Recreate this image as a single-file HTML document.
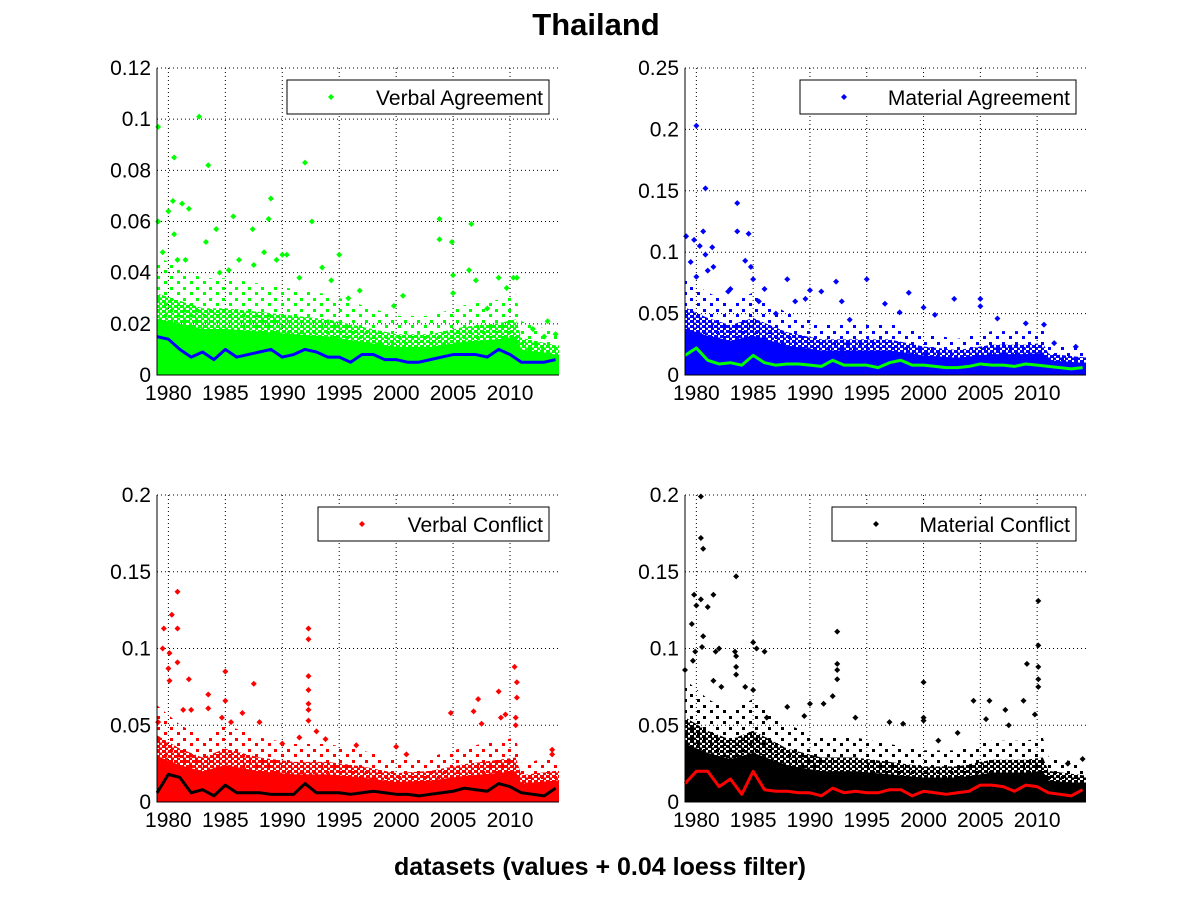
<!DOCTYPE html>
<html><head><meta charset="utf-8"><style>
body{margin:0;background:#fff;}
svg{display:block;font-family:"Liberation Sans",Arial,sans-serif;}
</style></head><body>
<svg id="chart" width="1201" height="901" viewBox="0 0 1201 901">
<defs>
<pattern id="pg" width="6" height="5" patternUnits="userSpaceOnUse"><rect x="0" y="0" width="4" height="3" fill="#00ff00"/><rect x="3" y="2.5" width="3" height="2.5" fill="#00ff00"/></pattern>
<pattern id="pb" width="6" height="5" patternUnits="userSpaceOnUse"><rect x="0" y="0" width="4" height="3" fill="#0000ff"/><rect x="3" y="2.5" width="3" height="2.5" fill="#0000ff"/></pattern>
<pattern id="pr" width="6" height="5" patternUnits="userSpaceOnUse"><rect x="0" y="0" width="4" height="3" fill="#ff0000"/><rect x="3" y="2.5" width="3" height="2.5" fill="#ff0000"/></pattern>
<pattern id="pk" width="6" height="5" patternUnits="userSpaceOnUse"><rect x="0" y="0" width="4" height="3" fill="#000"/><rect x="3" y="2.5" width="3" height="2.5" fill="#000"/></pattern>
<pattern id="qg" width="13" height="11" patternUnits="userSpaceOnUse"><rect x="1" y="1" width="3" height="3" fill="#00ff00"/><rect x="8" y="6" width="3" height="3" fill="#00ff00"/></pattern>
<pattern id="qb" width="13" height="11" patternUnits="userSpaceOnUse"><rect x="1" y="1" width="3" height="3" fill="#0000ff"/><rect x="8" y="6" width="3" height="3" fill="#0000ff"/></pattern>
<pattern id="qr" width="13" height="11" patternUnits="userSpaceOnUse"><rect x="1" y="1" width="3" height="3" fill="#ff0000"/><rect x="8" y="6" width="3" height="3" fill="#ff0000"/></pattern>
<pattern id="qk" width="13" height="11" patternUnits="userSpaceOnUse"><rect x="1" y="1" width="3" height="3" fill="#000"/><rect x="8" y="6" width="3" height="3" fill="#000"/></pattern>
</defs>
<text x="596" y="35" text-anchor="middle" font-size="31" font-weight="bold">Thailand</text>
<text x="600" y="875" text-anchor="middle" font-size="25" font-weight="bold">datasets (values + 0.04 loess filter)</text>
</svg>
<script>
// shared years
const loessYears=[1979,1980,1981,1982,1983,1984,1985,1986,1987,1988,1989,1990,1991,1992,1993,1994,1995,1996,1997,1998,1999,2000,2001,2002,2003,2004,2005,2006,2007,2008,2009,2010,2011,2012,2013,2014];
const bandYears=[1979,1981,1983,1985,1988,1991,1994,1997,2000,2003,2006,2009,2010.5,2011,2014];
const xTicks=[1980,1985,1990,1995,2000,2005,2010];

// Verbal Agreement
const vaLoess=[.015,.014,.010,.007,.009,.006,.010,.007,.008,.009,.010,.007,.008,.010,.009,.007,.007,.005,.008,.008,.006,.006,.005,.005,.006,.007,.008,.008,.008,.007,.010,.008,.005,.005,.005,.006];
const vaBand=[.022,.02,.018,.018,.017,.016,.015,.013,.011,.011,.013,.014,.015,.01,.008];
const vaOutX=[1979.1,1982.7,1980.5,1983.5,1992,1989,1979.1,1980.4,1981.2,1981.8,1985.7,1984.2,1987.4,1988.8,1992.6,2003.8,2003.8,2004.9,2006.6,2006.4,1980,1980.5,1983.3,1986.2,1988.4,1990,1990.4,1995,1993.5,2009,2010.6,2010.3,1991.5,1996.8,2000.6,2013.3,2014,1979.5,1980.8,1981.5,1984.5,1985.3,1987.5,1989.5,1994.3,1995.8,1999.8,2005,2005,2007,2008,2009.7,2012,2013];
const vaOutY=[.097,.101,.085,.082,.083,.069,.060,.068,.067,.065,.062,.057,.057,.061,.060,.061,.053,.052,.059,.041,.064,.055,.052,.045,.048,.047,.047,.047,.042,.038,.038,.038,.038,.033,.031,.021,.016,.048,.045,.045,.040,.041,.043,.045,.037,.030,.027,.039,.032,.037,.026,.034,.018,.015];
const vaTicks=[0,0.02,0.04,0.06,0.08,0.1,0.12];

// Material Agreement
const maLoess=[.016,.022,.012,.009,.010,.008,.016,.010,.008,.009,.009,.008,.007,.012,.008,.008,.008,.006,.010,.012,.008,.008,.007,.006,.006,.007,.009,.008,.008,.007,.009,.008,.007,.006,.005,.006];
const maBand=[.038,.032,.028,.032,.024,.02,.02,.02,.016,.014,.017,.017,.018,.012,.01];
const maOutX=[1980,1980.8,1983.6,1983.6,1984.6,1979.1,1979.8,1980.6,1981.4,1980.3,1984.3,1984.8,1979.5,1980.8,1985,1988,1995,1992.3,1991,1990,1998.7,2002.7,2005,2005,1986,1981.5,1982.8,1988.7,1989.6,1992.8,1996.6,2000,2001,1997.9,2006.5,2009,2010.6,2013.4,2011.5,1980,1981,1983,1985.5,1987,1993.5];
const maOutY=[.203,.152,.140,.117,.115,.113,.110,.117,.104,.105,.093,.088,.092,.098,.078,.078,.078,.076,.068,.069,.067,.062,.062,.056,.070,.088,.068,.060,.062,.060,.058,.055,.049,.051,.046,.042,.041,.023,.026,.08,.085,.07,.06,.05,.045];
const maTicks=[0,0.05,0.1,0.15,0.2,0.25];

// Verbal Conflict
const vcLoess=[.006,.018,.016,.006,.008,.004,.011,.006,.006,.006,.005,.005,.005,.012,.006,.006,.006,.005,.006,.007,.006,.005,.005,.004,.005,.006,.007,.009,.008,.007,.012,.010,.006,.005,.004,.009];
const vcBand=[.03,.024,.02,.024,.02,.018,.018,.016,.013,.014,.017,.019,.02,.012,.014];
const vcOutX=[1980.8,1980.3,1979.6,1980.8,1979.5,1980.1,1980.8,1980,1980.1,1981.8,1983.5,1983.5,1985,1985,1987.5,1992.3,1992.3,1992.3,1992.3,1992.3,1992.3,1992.3,2010.4,2010.6,2010.6,2009,2007.2,2006.8,2004.8,2009.2,2009.6,2010.5,2010.5,1979.1,1984.7,1985.5,1986.5,1988,1982,1981.3,1993,1993.8,1996.5,2000,2000.9,2013.7,2013.7,2007.5,1991.5,1990];
const vcOutY=[.137,.122,.113,.113,.100,.097,.091,.087,.079,.080,.070,.061,.085,.066,.077,.113,.106,.082,.073,.064,.060,.053,.088,.078,.068,.072,.067,.059,.058,.055,.057,.055,.050,.052,.055,.052,.058,.052,.060,.060,.046,.041,.037,.036,.031,.034,.031,.051,.042,.038];
const vcTicks=[0,0.05,0.1,0.15,0.2];

// Material Conflict
const mcLoess=[.012,.020,.020,.010,.015,.005,.020,.008,.007,.007,.006,.006,.004,.009,.006,.007,.006,.006,.008,.008,.004,.007,.006,.005,.006,.007,.011,.011,.010,.007,.011,.010,.006,.005,.004,.008];
const mcBand=[.038,.032,.028,.032,.024,.02,.02,.018,.016,.016,.019,.019,.02,.014,.012];
const mcOutX=[1980.4,1980.4,1980.6,1983.5,1979.8,1981.5,1980.4,1980,1981,1979.6,2010.1,2010.1,1992.4,1985,1985.3,1986,1983.4,1983.5,1981.7,1982,1979.9,1979.7,1980.6,1980.5,1992.4,1992.4,1992.4,2009.1,1979,2010.1,2010.1,2010.1,2000,1983.5,1983.5,1981.5,1982.2,1985,1984.3,1992,2004.4,2005.8,2007.2,2008.8,1988,1991.2,1990,2000,2000,1997,1998.2,2005.5,2009.8,2007.5,2001.3,2003,1986.2,1989.5,1994,2012.7,2014];
const mcOutY=[.199,.172,.165,.147,.135,.135,.132,.128,.127,.116,.131,.102,.111,.104,.100,.098,.098,.095,.098,.100,.098,.092,.108,.101,.090,.086,.080,.090,.086,.088,.080,.075,.078,.088,.083,.079,.075,.073,.075,.069,.066,.066,.060,.066,.062,.064,.064,.055,.053,.052,.051,.054,.057,.05,.040,.045,.055,.056,.055,.025,.028];
const mcTicks=[0,0.05,0.1,0.15,0.2];

const NS='http://www.w3.org/2000/svg';
const svg=document.getElementById('chart');
function mk(tag,attrs,parent){const e=document.createElementNS(NS,tag);for(const k in attrs)e.setAttribute(k,attrs[k]);(parent||svg).appendChild(e);return e;}

function panel(cfg){
  const g=mk('g',{});
  
  
  const x0=cfg.x0,x1=cfg.x1,y0=cfg.y0,y1=cfg.y1;
  const xs=v=>x0+(v-1979)/(2014.3-1979)*(x1-x0);
  const ys=v=>y1-v/cfg.ymax*(y1-y0);
  cfg.ticks.forEach(t=>{
    const yy=ys(t);
    if(t>0){const l=mk('line',{x1:x0,x2:x1,y1:yy,y2:yy,stroke:'#000','stroke-width':1,'stroke-dasharray':'1,3'},g);
    
    }
    const tx=mk('text',{x:x0-6,y:yy+7,'text-anchor':'end','font-size':21},g);
    tx.textContent=String(t);
    
    
  });
  xTicks.forEach(t=>{
    const xx=xs(t);
    const l=mk('line',{x1:xx,x2:xx,y1:y0,y2:y1,stroke:'#000','stroke-width':1,'stroke-dasharray':'1,3'},g);
    
    
    const tx=mk('text',{x:xx,y:y1+25,'text-anchor':'middle','font-size':21},g);
    tx.textContent=String(t);
    
    
  });
  function band(mult,fill,name){
    let d='M'+xs(1979)+','+ys(0);
    bandYears.forEach((yr,i)=>{d+=' L'+xs(yr)+','+ys(Math.min(cfg.band[i]*mult,cfg.ymax))});
    d+=' L'+xs(2014.3)+','+ys(cfg.band[cfg.band.length-1]*mult)+' L'+xs(2014.3)+','+ys(0)+'Z';
    const p=mk('path',{d:d,fill:fill},g);
    
    
  }
  band(2.1,'url(#'+cfg.pat2+')','scatter-faint-region');
  band(1.45,'url(#'+cfg.pat+')','scatter-sparse-region');
  band(1,cfg.color,'scatter-dense-region');
  cfg.ox.forEach((xv,i)=>{
    const px=xs(xv),py=ys(cfg.oy[i]);
    const p=mk('path',{d:`M${px-3},${py} L${px},${py-3} L${px+3},${py} L${px},${py+3}Z`,fill:cfg.color},g);
    
    
  });
  let ld='';
  loessYears.forEach((yr,i)=>{ld+=(i?' L':'M')+xs(Math.min(yr,2014.2))+','+ys(cfg.loess[i])});
  const ll=mk('path',{d:ld,fill:'none',stroke:cfg.lineColor,'stroke-width':3,'stroke-linejoin':'round'},g);
  
  
  const ax=mk('path',{d:`M${x0},${y0} L${x0},${y1} L${x1},${y1}`,fill:'none',stroke:'#000','stroke-width':1},g);
  
  
  const lg=mk('g',{},g);
  
  
  mk('rect',{x:cfg.lx,y:y0+12,width:x1-10-cfg.lx,height:34,fill:'#fff',stroke:'#000','stroke-width':1},lg);
  const mx=cfg.lx+44,my=y0+29;
  const lm=mk('path',{d:`M${mx-3},${my} L${mx},${my-3} L${mx+3},${my} L${mx},${my+3}Z`,fill:cfg.color},lg);
  
  
  const lt=mk('text',{x:x1-16,y:y0+37,'text-anchor':'end','font-size':21},lg);
  lt.textContent=cfg.label;
  
  
}
panel({name:'verbal-agreement',x0:157,x1:559,y0:68,y1:375,ymax:0.12,ticks:vaTicks,band:vaBand,loess:vaLoess,ox:vaOutX,oy:vaOutY,color:'#00ff00',lineColor:'#0000ff',pat:'pg',pat2:'qg',lx:287,label:'Verbal Agreement'});
panel({name:'material-agreement',x0:685,x1:1086,y0:68,y1:375,ymax:0.25,ticks:maTicks,band:maBand,loess:maLoess,ox:maOutX,oy:maOutY,color:'#0000ff',lineColor:'#00ff00',pat:'pb',pat2:'qb',lx:800,label:'Material Agreement'});
panel({name:'verbal-conflict',x0:157,x1:559,y0:495,y1:802,ymax:0.2,ticks:vcTicks,band:vcBand,loess:vcLoess,ox:vcOutX,oy:vcOutY,color:'#ff0000',lineColor:'#000000',pat:'pr',pat2:'qr',lx:318,label:'Verbal Conflict'});
panel({name:'material-conflict',x0:685,x1:1086,y0:495,y1:802,ymax:0.2,ticks:mcTicks,band:mcBand,loess:mcLoess,ox:mcOutX,oy:mcOutY,color:'#000000',lineColor:'#ff0000',pat:'pk',pat2:'qk',lx:832,label:'Material Conflict'});
</script>
</body></html>
